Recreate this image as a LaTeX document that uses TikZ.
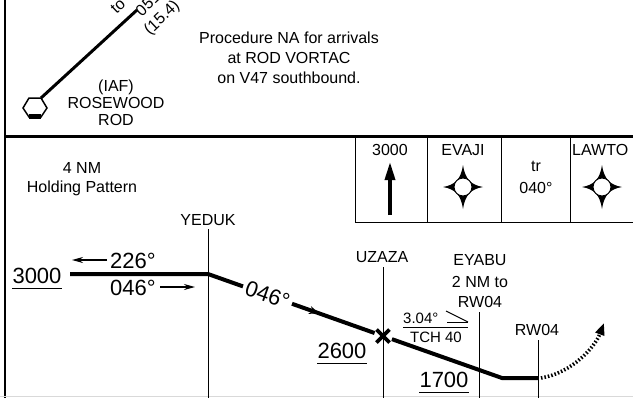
\documentclass[tikz,border=0pt]{standalone}
\usepackage{fontspec}
\setmainfont{Liberation Sans}
\usetikzlibrary{arrows.meta,calc}
\begin{document}
\begin{tikzpicture}[x=1pt,y=-1pt,
  lbl/.style={font=\fontsize{16}{19}\selectfont, inner sep=0pt},
  sm/.style={font=\fontsize{15}{18}\selectfont, inner sep=0pt},
  big/.style={font=\fontsize{22}{26}\selectfont, inner sep=0pt},
  rot/.style={font=\fontsize{22}{26}\selectfont, inner sep=0pt},
  route/.style={line width=4pt},
  fix/.style={line width=0.9pt},
  tbl/.style={line width=1pt},
  frame/.style={line width=2.6pt},
  uline/.style={line width=1pt},
  wpstar/.pic={
    \fill (20,0) .. controls (8,-2) and (2,-8) .. (0,-22)
          .. controls (-2,-8) and (-8,-2) .. (-20,0)
          .. controls (-8,2) and (-2,8) .. (0,22)
          .. controls (2,8) and (8,2) .. cycle;
    \filldraw[fill=white, draw=black, line width=1pt] (0,0) circle (9pt);
  }]
\useasboundingbox (0,0) rectangle (633,397);
\begin{scope}
\clip (0,0) rectangle (633,397);
% frame
\draw[frame] (5,-2) -- (5,400);
\draw[frame] (5,136.5) -- (640,136.5);
\draw[gray!30, line width=1pt] (0,396) -- (633,396);

% top part: VORTAC and feeder
\coordinate (vor) at (41,98);
\coordinate (fend) at (137,10);
\draw[line width=1.5pt] (23,108) -- (29,98) -- (41,98) -- (47,108) -- (41,117) -- (29,117) -- cycle;
\fill (29,114) rectangle (41,119);
\draw[line width=3pt] (vor) -- (fend);
\node[lbl,align=left,anchor=north west,rotate=43.4] (ftxt) at (108,6.2)
  {\rule{0pt}{12pt}to\\\hspace*{17pt}051°\\\hspace*{10pt}(15.4)};
\node[lbl,anchor=base] (iaf) at (116,91) {(IAF)};
\node[lbl,anchor=base] (rose) at (116,108) {ROSEWOOD};
\node[lbl,anchor=base] (rod) at (116,125) {ROD};
\node[lbl,anchor=base] (p1) at (289,43) {Procedure NA for arrivals};
\node[lbl,anchor=base] (p2) at (289,63) {at ROD VORTAC};
\node[lbl,anchor=base] (p3) at (289,83) {on V47 southbound.};

% table
\draw[tbl] (355,136.5) -- (355,222) -- (640,222);
\draw[tbl] (427,136.5) -- (427,222);
\draw[tbl] (501,136.5) -- (501,222);
\draw[tbl] (570,136.5) -- (570,222);
\node[lbl,anchor=base] (t3000) at (390,155) {3000};
\coordinate (tarr0) at (390,215);
\coordinate (tarr1) at (390,162);
\draw[line width=3.4pt,-{Triangle[length=18pt,width=10pt]}] (tarr0) -- (tarr1);
\node[lbl,anchor=base] (tevaji) at (463,155) {EVAJI};
\pic at (463,187) {wpstar};
\node[lbl,anchor=base] (ttr) at (536,171) {tr};
\node[lbl,anchor=base] (t040) at (536,193) {040°};
\node[lbl,anchor=base west] (tlaw) at (572,155) {LAWTO};
\pic at (602,187) {wpstar};

% holding note
\node[lbl,anchor=base] (hp1) at (82,173) {4 NM};
\node[lbl,anchor=base] (hp2) at (82,192) {Holding Pattern};

% profile
\coordinate (hold) at (70,274);
\coordinate (yeduk) at (208,274);
\coordinate (uzaza) at (383,336);
\coordinate (mda) at (502,378);
\coordinate (rw04) at (538,378);
\coordinate (eyabu) at (479,370);

\node[lbl,anchor=base] (lyeduk) at (208,225) {YEDUK};
\node[lbl,anchor=base] (luzaza) at (382,262) {UZAZA};
\node[lbl,anchor=base] (ley1) at (480,265) {EYABU};
\node[lbl,anchor=base] (ley2) at (480,287) {2 NM to};
\node[lbl,anchor=base] (ley3) at (480,307) {RW04};
\node[lbl,anchor=base] (lrw) at (537,335) {RW04};

\draw[fix] (yeduk |- 0,229) -- (yeduk |- 0,400);
\draw[fix] (uzaza |- 0,267) -- (uzaza |- 0,400);
\draw[fix] (eyabu |- 0,312) -- (eyabu |- 0,400);
\draw[fix] (rw04 |- 0,340) -- (rw04 |- 0,400);

\draw[route] (hold) -- (yeduk) -- ($(yeduk)!0.2!(uzaza)$);
\draw[route] ($(yeduk)!0.48!(uzaza)$) -- ($(yeduk)!0.952!(uzaza)$);
\draw[route] ($(uzaza)!0.075!(mda)$) -- (mda) -- (rw04);
\draw[line width=2pt,-{Stealth[length=10pt,width=8pt]}] ($(yeduk)!0.55!(uzaza)$) -- ($(yeduk)!0.635!(uzaza)$);
\node[rot,rotate=-19.5] (crs) at ($(yeduk)!0.34!(uzaza)$) {046°};
\draw[line width=3.6pt] ($(uzaza)+(-6.5,-6.5)$) -- ($(uzaza)+(6.5,6.5)$);
\draw[line width=3.6pt] ($(uzaza)+(-6.5,6.5)$) -- ($(uzaza)+(6.5,-6.5)$);

\node[big,anchor=base] (a3000) at (37,283) {3000};
\draw[uline] ([yshift=-5pt]a3000.base west) -- ([yshift=-5pt]a3000.base east);
\node[big,anchor=base west] (c226) at (110,268) {226°};
\node[big,anchor=base west] (c046) at (110,295) {046°};
\coordinate (a1) at (107,260); \coordinate (a2) at (72,260);
\coordinate (b1) at (160,287); \coordinate (b2) at (195,287);
\draw[line width=1.4pt,-{Stealth[length=11pt,width=6pt]}] (a1) -- (a2);
\draw[line width=1.4pt,-{Stealth[length=11pt,width=6pt]}] (b1) -- (b2);

\node[big,anchor=base] (a2600) at (342,358) {2600};
\draw[uline] ([yshift=-5pt]a2600.base west) -- ([yshift=-5pt]a2600.base east);
\node[big,anchor=base] (a1700) at (444,387) {1700};
\draw[uline] ([yshift=-5pt]a1700.base west) -- ([yshift=-5pt]a1700.base east);

\node[sm,anchor=base west] (gs) at (403,323) {3.04°};
\draw[line width=1pt] (446,311) -- (468,322);
\draw[line width=1pt] (447,322) -- (468,322);
\draw[uline] (403,327) -- (468,327);
\node[sm,anchor=base] (tch) at (436,342) {TCH 40};

\draw[line width=3.6pt, dash pattern=on 1.5pt off 2pt, -{Triangle[length=12pt,width=9pt]}]
  ($(rw04)+(3,0)$) .. controls (572,373) and (595,347) .. (604,323);
\end{scope}
\end{tikzpicture}
\end{document}
